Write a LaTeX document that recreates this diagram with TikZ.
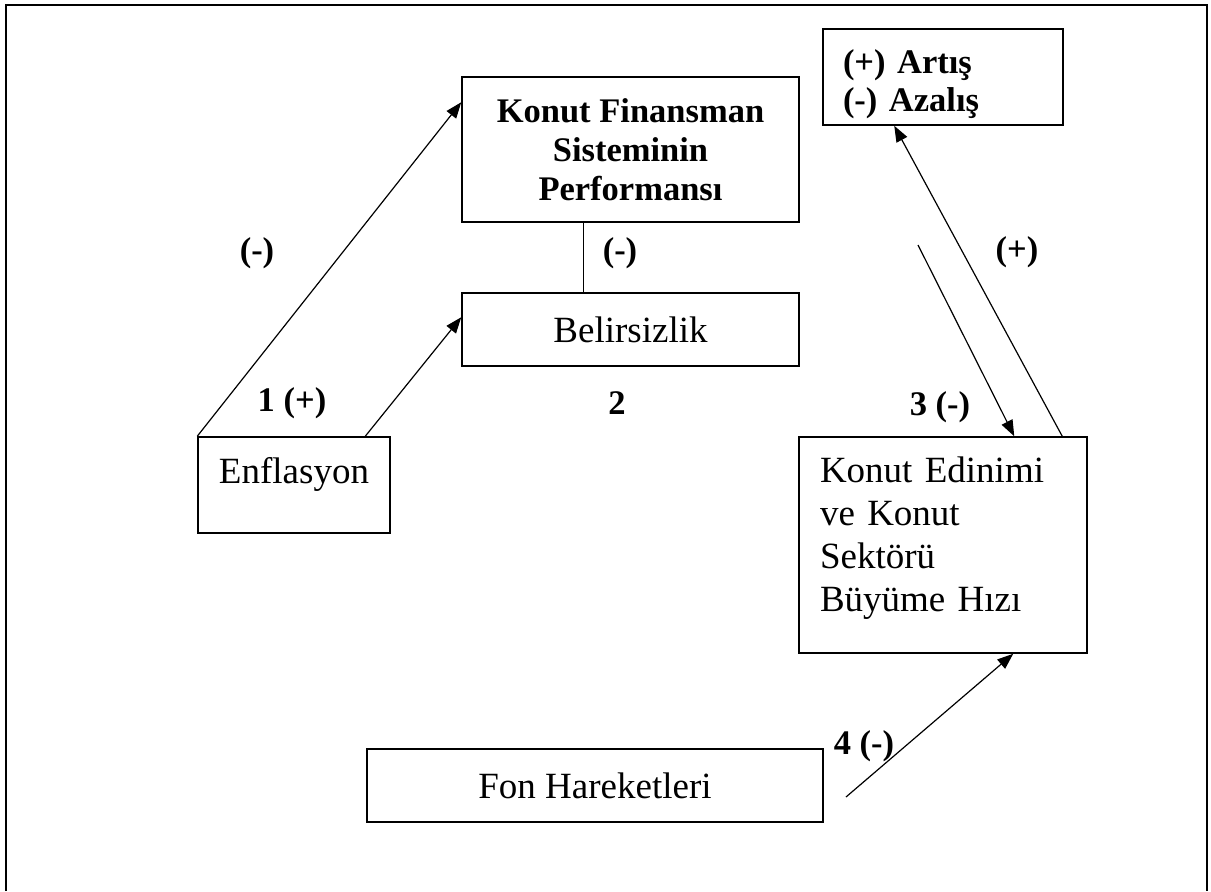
\documentclass[tikz,border=0pt]{standalone}
\usepackage{fontspec}
\setmainfont{Liberation Serif}
\usetikzlibrary{arrows.meta,calc}
\tikzset{
  plainbox/.style  ={draw=black, line width=0.75pt, inner sep=0pt,
                     align=center, font=\fontsize{18.5}{21.5}\selectfont},
  boldbox/.style   ={draw=black, line width=0.75pt, inner sep=0pt,
                     align=center, font=\fontsize{17.25}{19.5}\selectfont\bfseries},
  signlabel/.style ={inner sep=0pt, font=\fontsize{17.25}{19.5}\selectfont\bfseries},
  linkarr/.style   ={-{Triangle[length=8pt,width=6pt]}, line width=0.6pt},
  linkline/.style  ={line width=0.6pt},
}

\begin{document}
\begin{tikzpicture}[x=0.5pt,y=-0.5pt]
        \useasboundingbox (0,0) rectangle (1211,891);
        % outer frame (open at the bottom)
        \draw[line width=1.1pt] (6,891) -- (6,5) -- (1207,5) -- (1207,891);
        % boxes
        \node[boldbox, minimum width=168.5pt, minimum height=72.5pt] (kfsp) at (630.5,149.5)
          {Konut Finansman\\Sisteminin\\Performansı};
        \node[plainbox, minimum width=168.5pt, minimum height=36.5pt] (belirsiz) at (630.5,329.5)
          {Belirsizlik};
        \node[plainbox, minimum width=96pt, text height=23pt, text depth=25pt] (enflasyon) at (294,485)
          {Enflasyon};
        \node[plainbox, align=left, text width=123pt, inner xsep=10.5pt,
              text height=22.5pt, text depth=85.5pt] (konut) at (943,545)
          {Konut Edinimi\\ve Konut\\Sektörü\\Büyüme Hızı};
        \node[boldbox, align=left, text width=100pt, inner xsep=10pt,
              text height=22pt, text depth=26pt,
              font=\fontsize{17.25}{19}\selectfont\bfseries] (lejant) at (943,77)
          {(+) Artış\\(-) Azalış};
        \node[plainbox, minimum width=228pt, minimum height=36.5pt] (fon) at (595,785.5)
          {Fon Hareketleri};
        % free arrow ends
        \coordinate (bas3) at (918,245);
        \coordinate (bas4) at (846,797);
        % connectors
        \draw[linkarr] (enflasyon.north west) -- ([yshift=-13pt]kfsp.north west);
        \draw[linkarr] ([xshift=84pt]enflasyon.north west) -- ([yshift=-12.5pt]belirsiz.north west);
        \draw[linkline] ([xshift=61pt]kfsp.south west) -- ([xshift=61pt]belirsiz.north west);
        \draw[linkarr] (bas3) -- ([xshift=108pt]konut.north west);
        \draw[linkarr] ([xshift=132pt]konut.north west) -- ([xshift=36pt]lejant.south west);
        \draw[linkarr] (bas4) -- ([xshift=107.5pt]konut.south west);
        % signs
        \node[signlabel] (isaret1) at (257,253) {(-)};
        \node[signlabel] (isaret2) at (620,253) {(-)};
        \node[signlabel] (isaret3) at (1017,252) {(+)};
        \node[signlabel] (etiket1) at (292,403) {1 (+)};
        \node[signlabel] (etiket2) at (617,403) {2};
        \node[signlabel] (etiket3) at (940,407) {3 (-)};
        \node[signlabel] (etiket4) at (864,746) {4 (-)};
      \end{tikzpicture}
\end{document}
